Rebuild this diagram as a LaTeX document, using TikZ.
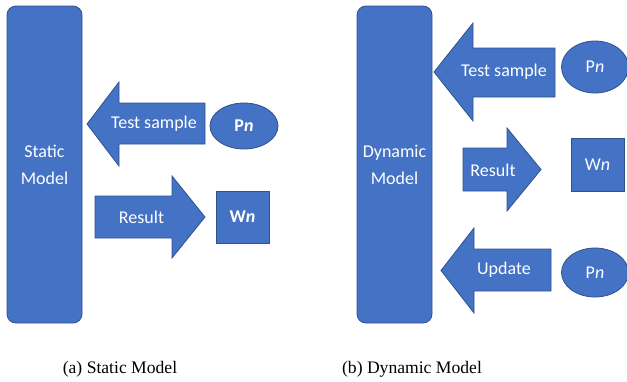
\documentclass[tikz,border=0pt]{standalone}
\usepackage{fontspec}
\setmainfont{Liberation Serif}
\newfontfamily\calib{Carlito}
\usetikzlibrary{shapes.geometric, positioning}
\definecolor{officeblue}{RGB}{68, 114, 196}
\definecolor{officeedge}{RGB}{47, 82, 143}

\begin{document}
\begin{tikzpicture}[x=1pt, y=-1pt,
    blk/.style={fill=officeblue, draw=officeedge, line width=0.8pt},
    lbl/.style={text=white, font=\calib\fontsize{18}{27}\selectfont, inner sep=0pt},
    model/.style={blk, lbl, rounded corners=9pt, minimum width=75pt, minimum height=317pt, align=center},
    subcap/.style={font=\fontsize{17.6}{20}\selectfont, inner sep=0pt}]
    \useasboundingbox (0,0) rectangle (627,381);

    % (a) static model
    \node[model] (static) at (44.5,164.5) {Static\\Model};
    \draw[blk] (87,124) -- (119,82) -- (119,103) -- (205,103) -- (205,144)
            -- (119,144) -- (119,166) -- cycle;
    \draw[blk] (95,196) -- (172,196) -- (172,176) -- (205,217) -- (172,258)
            -- (172,238) -- (95,238) -- cycle;
    \node[lbl] (testa) at (154,124) {Test sample};
    \node[lbl] (resa) at (141.5,217) {Result};
    \node[blk, lbl, ellipse, minimum width=68pt, minimum height=46pt] (pa) at (244,126) {\textbf{P\textit{n}}};
    \node[blk, lbl, minimum width=53pt, minimum height=52pt] (wa) at (242.5,217) {\textbf{W\textit{n}}};

    % (b) dynamic model
    \node[model] (dynamic) at (394.5,164.5) {Dynamic\\Model};
    \draw[blk] (434,72) -- (473,23) -- (473,48) -- (555,48) -- (555,97)
            -- (473,97) -- (473,121) -- cycle;
    \draw[blk] (463,148) -- (507,148) -- (507,128) -- (541,169.5) -- (507,211)
            -- (507,191) -- (463,191) -- cycle;
    \draw[blk] (441,270.5) -- (474,228) -- (474,249) -- (551,249) -- (551,291)
            -- (474,291) -- (474,313) -- cycle;
    \node[lbl] (testb) at (504,72) {Test sample};
    \node[lbl] (resb) at (493,170) {Result};
    \node[lbl] (updb) at (504,270) {Update};
    \node[blk, lbl, ellipse, minimum width=67pt, minimum height=52pt] (pb) at (595,67) {P\textit{n}};
    \node[blk, lbl, minimum width=53pt, minimum height=53pt] (wb) at (597.5,164.5) {W\textit{n}};
    \node[blk, lbl, ellipse, minimum width=67pt, minimum height=49pt] (pc) at (595,272.5) {P\textit{n}};

    % captions
    \node[subcap] (capa) at (120,369) {(a) Static Model};
    \node[subcap] (capb) at (412,369) {(b) Dynamic Model};
\end{tikzpicture}
\end{document}
